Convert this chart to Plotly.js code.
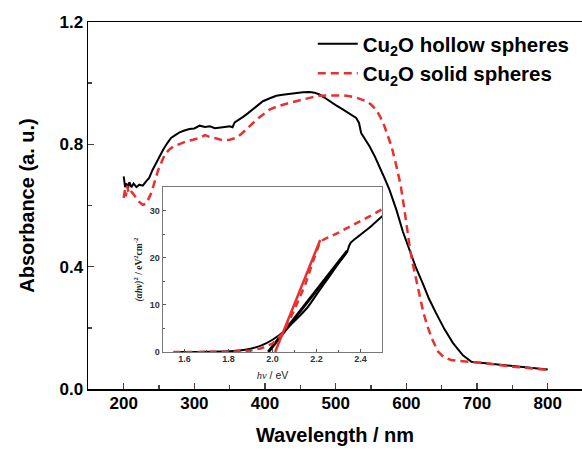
<!DOCTYPE html>
<html>
<head>
<meta charset="utf-8">
<script src="https://cdn.plot.ly/plotly-3.0.1.min.js"></script>
<style>html,body{margin:0;padding:0;background:#fff;}#chart{width:582px;height:450px;}</style>
</head>
<body>
<div id="chart"></div>
<script>
// Main absorbance spectra
const hollowWl = [200,202,204,206,208,211,214,218,222,227,232,236,241,248,256,262,267,273,279,286,293,300,307.5,315,322,329,336,343,350,354,357,363,369,376,383,390,397,406,416,425,435,445,453.6,463,470,477,484,491,500,510,520,529,533,536,542,548,555,562,569,576,580,586,595,604.5,613,623,632,642,654,666,680,692,720,751,775,800];
const hollowAbs = [0.695,0.66,0.672,0.655,0.676,0.66,0.672,0.66,0.668,0.665,0.68,0.69,0.717,0.75,0.783,0.805,0.821,0.83,0.839,0.845,0.85,0.852,0.861,0.857,0.859,0.853,0.854,0.857,0.859,0.856,0.872,0.88,0.89,0.902,0.914,0.928,0.941,0.95,0.959,0.962,0.966,0.968,0.970,0.971,0.969,0.963,0.953,0.941,0.928,0.914,0.9,0.886,0.87,0.837,0.815,0.793,0.762,0.728,0.69,0.652,0.625,0.585,0.515,0.455,0.40,0.346,0.295,0.248,0.195,0.15,0.11,0.089,0.083,0.076,0.07,0.064];

const solidWl = [200,202,203,205,207,210,216,222,227,232,239,244,249,258,264,270,280,289,298,307.5,315,322,330,340,350,359,366,373.5,381,388,397,406.5,416,425,435,444,453,463,477,490,500,510,520,530,543,550,557,563,569,574,579,586,592,597,601,605,609,614,619,624,630,637,645,653,663,694,720,751,775,800];
const solidAbs = [0.625,0.655,0.63,0.665,0.64,0.648,0.63,0.612,0.602,0.606,0.641,0.68,0.717,0.766,0.782,0.793,0.803,0.81,0.815,0.821,0.83,0.824,0.82,0.813,0.815,0.821,0.833,0.848,0.865,0.881,0.898,0.914,0.923,0.93,0.936,0.941,0.947,0.952,0.959,0.959,0.960,0.960,0.957,0.952,0.941,0.93,0.914,0.89,0.859,0.828,0.793,0.728,0.665,0.59,0.52,0.46,0.41,0.355,0.302,0.25,0.204,0.16,0.122,0.104,0.095,0.089,0.082,0.073,0.068,0.062];

// Inset: Tauc plot
const hollowEv = [1.55,1.6,1.7,1.8,1.85,1.9,1.95,2.0,2.05,2.1,2.156,2.2,2.25,2.3,2.339,2.354,2.4,2.45,2.5];
const hollowTauc = [0,0,0.05,0.15,0.3,0.7,1.4,2.6,4.3,6.6,9.3,12.2,15.5,18.8,21.3,23.1,24.9,26.8,28.9];
const hollowFitEv = [1.981,2.34];
const hollowFitY = [0,21.5];

const solidEv = [1.55,1.6,1.7,1.8,1.9,1.95,2.0,2.05,2.1,2.15,2.194,2.217,2.25,2.293,2.35,2.414,2.46,2.5];
const solidTauc = [0,0,0,0.05,0.3,0.8,1.8,4.2,9.0,14.5,20.6,23.5,24.3,25.2,26.6,28.1,29.3,30.4];
const solidFitEv = [2.012,2.217];
const solidFitY = [0,23.8];

const names = ['Cu<sub>2</sub>O hollow spheres','Cu<sub>2</sub>O solid spheres'];
const RED = '#e8302f';
const SANS = 'Arial, "Liberation Sans", sans-serif';
const SERIF = '"Times New Roman", "Liberation Serif", serif';

const traces = [
  {x: hollowWl, y: hollowAbs, type:'scatter', mode:'lines', name: names[0],
   line:{color:'#000', width:2}},
  {x: solidWl, y: solidAbs, type:'scatter', mode:'lines', name: names[1],
   line:{color:RED, width:2.5, dash:'8px,5px'}},
  {x: hollowEv, y: hollowTauc, xaxis:'x2', yaxis:'y2', type:'scatter', mode:'lines', showlegend:false,
   line:{color:'#000', width:2, shape:'spline'}},
  {x: hollowFitEv, y: hollowFitY, xaxis:'x2', yaxis:'y2', type:'scatter', mode:'lines', showlegend:false,
   line:{color:'#000', width:3}},
  {x: solidEv, y: solidTauc, xaxis:'x2', yaxis:'y2', type:'scatter', mode:'lines', showlegend:false,
   line:{color:RED, width:2.5, dash:'7px,5px'}},
  {x: solidFitEv, y: solidFitY, xaxis:'x2', yaxis:'y2', type:'scatter', mode:'lines', showlegend:false,
   line:{color:RED, width:2.5}}
];

const layout = {
  width:582, height:450,
  margin:{l:88, r:0, t:22, b:61},
  paper_bgcolor:'#fff', plot_bgcolor:'#fff',
  font:{family:SANS, color:'#000'},
  showlegend:true,
  legend:{x:0.455, xanchor:'left', y:0.995, yanchor:'top', bgcolor:'rgba(0,0,0,0)',
    font:{size:20.5, weight:'bold', family:SANS}, itemwidth:40, tracegroupgap:0},
  xaxis:{domain:[0,1], range:[149.5,848.5], tick0:200, dtick:100, ticks:'inside', ticklen:6, tickwidth:1.5,
    showline:true, linewidth:1.5, linecolor:'#000', mirror:true, showgrid:false, zeroline:false,
    minor:{dtick:50, tick0:200, ticks:'inside', ticklen:4, tickwidth:1.5, showgrid:false},
    tickfont:{size:17, weight:'bold'}, ticklabelstandoff:-2,
    title:{text:'Wavelength / nm', font:{size:20, weight:'bold'}, standoff:16}},
  yaxis:{domain:[0,1], range:[0,1.2], tick0:0, dtick:0.4, tickformat:'.1f', ticks:'inside', ticklen:6, tickwidth:1.5,
    showline:true, linewidth:1.5, linecolor:'#000', mirror:true, showgrid:false, zeroline:false,
    minor:{dtick:0.2, ticks:'inside', ticklen:4, tickwidth:1.5, showgrid:false},
    tickfont:{size:17, weight:'bold'},
    title:{text:'Absorbance (a. u.)', font:{size:20, weight:'bold'}, standoff:19}},
  xaxis2:{domain:[0.151,0.596], anchor:'y2', range:[1.5,2.5], tick0:1.6, dtick:0.2, tickformat:'.1f',
    ticks:'inside', ticklen:3, tickwidth:1, tickcolor:'#555',
    showline:true, linewidth:1, linecolor:'#777', mirror:true, showgrid:false, zeroline:false,
    minor:{dtick:0.1, ticks:'inside', ticklen:2, tickwidth:1, tickcolor:'#555', showgrid:false},
    tickfont:{size:9, weight:'bold', color:'#333'}, ticklabelstandoff:-2,
    title:{text:'<i><span style="font-family:Liberation Serif">hν</span></i> / eV', font:{size:10.5, color:'#222'}, standoff:8}},
  yaxis2:{domain:[0.1008,0.5496], anchor:'x2', range:[0,35], tick0:0, dtick:10,
    ticks:'inside', ticklen:3, tickwidth:1, tickcolor:'#555',
    showline:true, linewidth:1, linecolor:'#777', mirror:true, showgrid:false, zeroline:false,
    minor:{dtick:5, ticks:'inside', ticklen:2, tickwidth:1, tickcolor:'#555', showgrid:false},
    tickfont:{size:9, weight:'bold', color:'#333'},
    title:{text:'<i>(αhν)</i><sup>2</sup> / eV<sup>2</sup>cm<sup>-2</sup>', font:{size:9.5, family:SERIF, weight:'bold', color:'#222'}, standoff:5}}
};

Plotly.newPlot('chart', traces, layout, {staticPlot:true, displayModeBar:false});
</script>
</body>
</html>
